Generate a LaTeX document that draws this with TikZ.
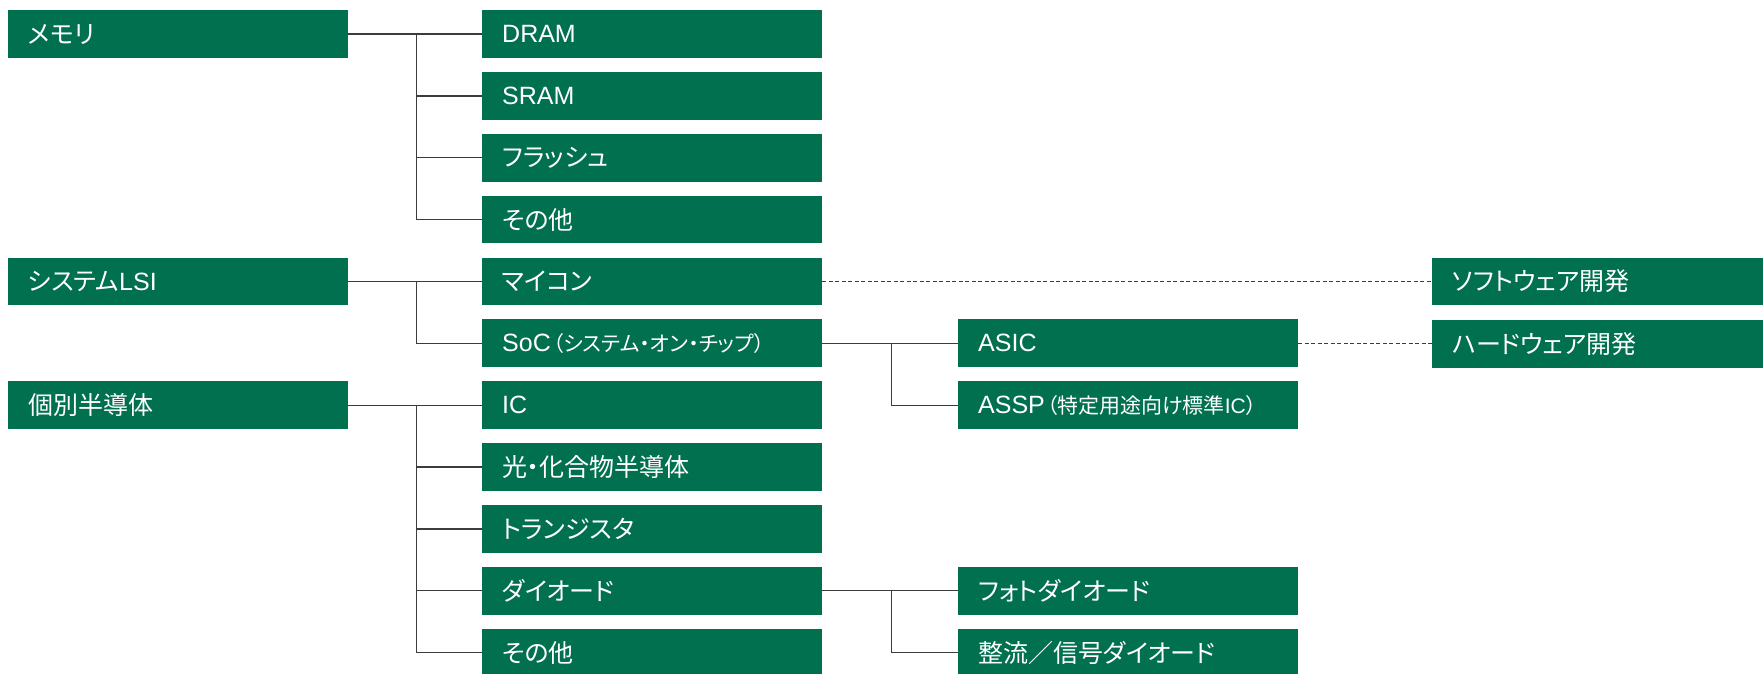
\documentclass[tikz,border=0pt]{standalone}
\usepackage{fontspec}
\setmainfont{Liberation Sans}
\newfontfamily\jp{Noto Sans CJK JP}[RawFeature=+palt]
\newcommand\smtxt{\fontsize{21}{23}\selectfont}
\definecolor{boxgreen}{HTML}{00704F}
\definecolor{linegray}{HTML}{3C3C3C}
\begin{document}
\begin{tikzpicture}[x=1pt,y=-1pt,
 box/.style={fill=boxgreen, text=white, anchor=north west, minimum height=47.7pt,
   inner xsep=20pt, inner ysep=0pt, text width=300pt, align=left,
   font=\fontsize{25}{28}\selectfont},
 rbox/.style={box, text width=291pt},
 link/.style={draw=linegray, line width=1.3pt},
 dlink/.style={draw=linegray, line width=1.1pt, dash pattern=on 4pt off 2.5pt}]
\useasboundingbox (0,0) rectangle (1763,674);
% level 1
\node[box] (mem)  at (8,10)     {\jp メモリ};
\node[box] (lsi)  at (8,257.4)  {{\jp システム}LSI};
\node[box] (disc) at (8,381.1)  {\jp 個別半導体};
% level 2
\node[box] (dram)  at (482,10)     {DRAM};
\node[box] (sram)  at (482,71.85)  {SRAM};
\node[box] (flash) at (482,133.7)  {\jp フラッシュ};
\node[box] (oth1)  at (482,195.55) {\jp その他};
\node[box] (mcu)   at (482,257.4)  {\jp マイコン};
\node[box] (soc)   at (482,319.25) {SoC\kern2pt{\smtxt\jp （システム・オン・チップ）}};
\node[box] (ic)    at (482,381.1)  {IC};
\node[box] (opto)  at (482,442.95) {\jp 光・化合物半導体};
\node[box] (tr)    at (482,504.8)  {\jp トランジスタ};
\node[box] (diode) at (482,566.65) {\jp ダイオード};
\node[box] (oth2)  at (482,628.5)  {\jp その他};
% level 3
\node[box] (asic)  at (958,319.25) {ASIC};
\node[box] (assp)  at (958,381.1)  {ASSP\kern2pt{\smtxt\jp （特定用途向け標準}{\smtxt IC}{\smtxt\jp ）}};
\node[box] (photo) at (958,566.65) {\jp フォトダイオード};
\node[box] (rect)  at (958,628.5)  {\jp 整流／信号ダイオード};
% right
\node[rbox] (soft) at (1432,257.4)  {\jp ソフトウェア開発};
\node[rbox] (hard) at (1432,320.25) {\jp ハードウェア開発};
% trunks
\coordinate (t1) at ([xshift=68pt]mem.east);
\coordinate (t2) at ([xshift=68pt]lsi.east);
\coordinate (t3) at ([xshift=68pt]disc.east);
\coordinate (t4) at ([xshift=69pt]soc.east);
\coordinate (t5) at ([xshift=69pt]diode.east);
% connectors
\draw[link] (mem.east) -- (dram.west);
\foreach \c in {sram,flash,oth1} \draw[link] (t1) |- (\c.west);
\draw[link] (lsi.east) -- (mcu.west);
\draw[link] (t2) |- (soc.west);
\draw[link] (disc.east) -- (ic.west);
\foreach \c in {opto,tr,diode,oth2} \draw[link] (t3) |- (\c.west);
\draw[link] (soc.east) -- (asic.west);
\draw[link] (t4) |- (assp.west);
\draw[link] (diode.east) -- (photo.west);
\draw[link] (t5) |- (rect.west);
\draw[dlink] (mcu.east) -- (soft.west);
\draw[dlink] (asic.east) -- (asic.east -| hard.west);
\end{tikzpicture}
\end{document}
